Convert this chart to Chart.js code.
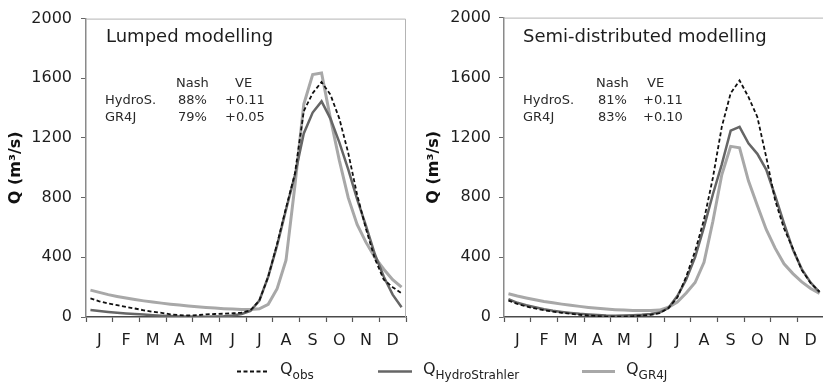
<!DOCTYPE html>
<html><head><meta charset="utf-8">
<script src="https://cdn.jsdelivr.net/npm/chart.js@4/dist/chart.umd.min.js"></script>
<style>
html,body{margin:0;padding:0;background:#fff;overflow:hidden;width:823px;height:382px;}
#wrap{position:relative;width:823px;height:382px;overflow:hidden;}
canvas{position:absolute;top:0;}
.t{position:absolute;font-family:"DejaVu Sans",sans-serif;color:#1e1e1e;white-space:nowrap;line-height:1;}
.ttl{font-size:18px;}
.st{font-size:13px;color:#2a2a2a;}
.lg{font-size:16px;color:#222;}
.sub{font-size:12px;position:relative;top:5px;}
svg{position:absolute;left:0;top:0;}
</style></head>
<body>
<div id="wrap">
<canvas id="c1" width="411" height="382" style="left:0"></canvas>
<canvas id="c2" width="414" height="382" style="left:411px"></canvas>

<div class="t ttl" style="left:106px;top:27px">Lumped modelling</div>
<div class="t st" style="left:176px;top:76px">Nash</div>
<div class="t st" style="left:235px;top:76px">VE</div>
<div class="t st" style="left:105px;top:93px">HydroS.</div>
<div class="t st" style="left:178px;top:93px">88%</div>
<div class="t st" style="left:225px;top:93px">+0.11</div>
<div class="t st" style="left:105px;top:110px">GR4J</div>
<div class="t st" style="left:178px;top:110px">79%</div>
<div class="t st" style="left:225px;top:110px">+0.05</div>

<div class="t ttl" style="left:523px;top:27px">Semi-distributed modelling</div>
<div class="t st" style="left:596px;top:76px">Nash</div>
<div class="t st" style="left:647px;top:76px">VE</div>
<div class="t st" style="left:523px;top:93px">HydroS.</div>
<div class="t st" style="left:598px;top:93px">81%</div>
<div class="t st" style="left:643px;top:93px">+0.11</div>
<div class="t st" style="left:523px;top:110px">GR4J</div>
<div class="t st" style="left:598px;top:110px">83%</div>
<div class="t st" style="left:643px;top:110px">+0.10</div>

<svg width="823" height="382">
<line x1="237" y1="371.5" x2="268" y2="371.5" stroke="#111" stroke-width="1.8" stroke-dasharray="4 2.5"/>
<line x1="378" y1="371.5" x2="412" y2="371.5" stroke="#666" stroke-width="2.5"/>
<line x1="582" y1="371.5" x2="615" y2="371.5" stroke="#a8a8a8" stroke-width="3"/>
</svg>
<div class="t lg" style="left:280px;top:361px">Q<span class="sub">obs</span></div>
<div class="t lg" style="left:423px;top:361px">Q<span class="sub">HydroStrahler</span></div>
<div class="t lg" style="left:626px;top:361px">Q<span class="sub">GR4J</span></div>
</div>
<script>
// Month labels (x axis) and y ticks
const monthLabels = ['J','F','M','A','M','J','J','A','S','O','N','D'];
const yTickStep = 400;
const yMax = 2000;
// 10-day (dekad) mean discharge, m3/s, 36 dekads per year
const lumpedObs   = [125,105,90, 80,68,57, 45,35,28, 18,13,10, 12,18,20, 22,25,30, 45,110,270, 490,730,960, 1380,1500,1575, 1490,1330,1100, 820,590,390, 250,200,160];
const lumpedHydro = [47,40,34, 29,24,20, 16,12,9, 6,4,3, 2,2,3, 5,10,20, 40,110,270, 480,720,950, 1230,1370,1445, 1330,1170,990, 790,610,420, 270,150,65];
const lumpedGR4J  = [180,165,150, 138,127,117, 108,100,93, 86,80,74, 69,64,60, 56,53,50, 50,55,85, 190,380,880, 1425,1625,1635, 1330,1050,800, 620,500,400, 320,250,200];
const semiObs     = [110,88,70, 57,45,36, 28,21,15, 10,6,3, 3,2,5, 10,15,25, 60,130,270, 440,650,930, 1270,1495,1580, 1470,1336,1069, 780,591,458, 313,226,169];
const semiHydro   = [120,95,78, 65,52,42, 34,27,21, 17,13,10, 9,10,12, 15,20,30, 60,140,250, 400,600,820, 1020,1245,1270, 1160,1090,985, 810,625,450, 320,230,165];
const semiGR4J    = [155,140,127, 115,104,95, 86,78,71, 64,58,53, 49,46,44, 43,44,46, 65,100,160, 230,365,640, 950,1140,1130, 910,745,585, 460,355,290, 235,190,158];

// time of each dekad, in months from 1 January (centre of each 10-day period)
const toPoints = arr => arr.map((v,k)=>({x:(k+0.5)/3, y:v}));

const framePlugin = {
  id:'frame',
  beforeDatasetsDraw(chart){
    const {ctx, chartArea:a} = chart;
    ctx.save();
    ctx.strokeStyle = '#b4b4b4';
    ctx.lineWidth = 1;
    ctx.beginPath();
    ctx.moveTo(a.left, a.top+0.5);
    ctx.lineTo(a.right-0.5, a.top+0.5);
    ctx.lineTo(a.right-0.5, a.bottom);
    ctx.stroke();
    ctx.restore();
  }
};

function makeChart(id, obs, hydro, gr4j, yWidth, padRight, titlePad, tickPad){
  new Chart(document.getElementById(id), {
    type:'line',
    data:{datasets:[
      {label:'Qobs', data:toPoints(obs), borderColor:'#111', borderWidth:1.8, borderDash:[4,2.5], pointRadius:0, tension:0, fill:false},
      {label:'QHydroStrahler', data:toPoints(hydro), borderColor:'#666', borderWidth:2.5, pointRadius:0, tension:0, fill:false},
      {label:'QGR4J', data:toPoints(gr4j), borderColor:'#a8a8a8', borderWidth:3, pointRadius:0, tension:0, fill:false}
    ]},
    options:{
      responsive:false, animation:false, devicePixelRatio:1,
      layout:{padding:{top:17, right:padRight, bottom:0, left:0}},
      plugins:{legend:{display:false}, tooltip:{enabled:false}},
      scales:{
        x:{
          type:'linear', min:0, max:12,
          afterFit(s){ s.height = 65; s.paddingLeft = 0; s.paddingRight = 0; },
          afterBuildTicks(s){ const t=[]; for(let i=0;i<=24;i++) t.push({value:i/2}); s.ticks=t; },
          ticks:{autoSkip:false, maxRotation:0, padding:9, color:'#1e1e1e',
            font:{family:'DejaVu Sans', size:16},
            callback:(v)=> (Math.abs(v%1-0.5)<1e-6) ? monthLabels[Math.floor(v)] : ''},
          grid:{drawOnChartArea:false, drawTicks:true, tickLength:5, tickWidth:1.2,
            tickColor:(c)=> (c.tick && Math.abs(c.tick.value%1)<1e-6) ? '#555' : 'rgba(0,0,0,0)'},
          border:{display:true, color:'#4a4a4a', width:1.5}
        },
        y:{
          min:0, max:yMax,
          afterFit(s){ s.width = yWidth; },
          ticks:{stepSize:yTickStep, padding:tickPad, color:'#1e1e1e', font:{family:'DejaVu Sans', size:16},
            callback:(v)=> String(v)},
          grid:{drawOnChartArea:false, drawTicks:true, tickLength:5, tickColor:'#666'},
          border:{display:true, color:'#8a8a8a', width:1.5},
          title:{display:true, text:'Q (m³/s)', color:'#111', font:{family:'DejaVu Sans', size:16, weight:'bold'}, padding:{top:titlePad, bottom:0}}
        }
      }
    },
    plugins:[framePlugin]
  });
}
makeChart('c1', lumpedObs, lumpedHydro, lumpedGR4J, 86, 5, 6, 9);
makeChart('c2', semiObs, semiHydro, semiGR4J, 93, 1, 13, 8);
</script>
</body></html>
